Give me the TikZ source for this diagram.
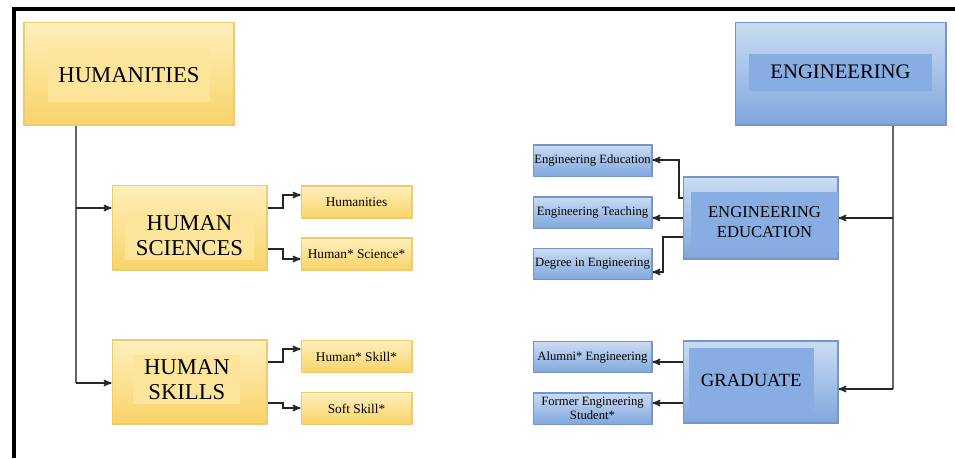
\documentclass[tikz,border=0pt]{standalone}
\usepackage{fontspec}
\setmainfont{Liberation Serif}
\usetikzlibrary{arrows}
\definecolor{goldtop}{HTML}{FEEFBC}
\definecolor{goldbot}{HTML}{F9D368}
\definecolor{goldline}{HTML}{EDCB6E}
\definecolor{goldin}{HTML}{FCE49A}
\definecolor{bluetop}{HTML}{CADCF3}
\definecolor{bluebot}{HTML}{80A7DD}
\definecolor{blueline}{HTML}{7596C6}
\definecolor{bluein}{HTML}{88ADE2}

\begin{document}
\begin{tikzpicture}[x = 0.75pt, y = -0.75pt, >= stealth', every text node part/.style = {align = center},
	hbox/.style = {rectangle, draw = goldline, line width = 1pt, top color = goldtop, bottom color = goldbot, inner sep = 0pt},
	ebox/.style = {rectangle, draw = blueline, line width = 1pt, top color = bluetop, bottom color = bluebot, inner sep = 0pt},
	bigtxt/.style = {font = \fontsize{17}{19}\selectfont},
	midtxt/.style = {font = \fontsize{12.5}{15}\selectfont},
	smltxt/.style = {font = \fontsize{9.5}{10.5}\selectfont},
	hsub/.style = {hbox, font = \fontsize{10}{11}\selectfont, minimum width = 83pt, minimum height = 24pt},
	esub/.style = {ebox, smltxt, minimum width = 89pt, minimum height = 23.5pt},
	trunk/.style = {line width = 1.1pt, black!60},
	link/.style = {->, line width = 1.1pt, black!85}]
	\useasboundingbox (0,0) rectangle (955,458);
	% frame
	\draw[line width = 2.3pt] (14,458) -- (14,9) -- (955,9);

	% humanities side
	\node[hbox, minimum width = 157.5pt, minimum height = 77pt, label = {[fill = goldin, minimum width = 122pt, minimum height = 41pt, bigtxt, yshift = -1pt]center:HUMANITIES}] (hum) at (129,73.5) {};
	\node[hbox, minimum width = 116pt, minimum height = 63.5pt, label = {[fill = goldin, inner xsep = 8pt, bigtxt, yshift = -6pt]center:HUMAN\\SCIENCES}] (hsci) at (189.5,227.5) {};
	\node[hbox, minimum width = 116pt, minimum height = 63pt, label = {[fill = goldin, inner xsep = 8pt, bigtxt, xshift = -2pt, yshift = 2pt]center:HUMAN\\SKILLS}] (hskl) at (189.5,382) {};
	\node[hsub] (humn) at (356.5,202) {Humanities};
	\node[hsub] (hsci2) at (356.5,254) {Human* Science*};
	\node[hsub] (hskl2) at (356.5,356.5) {Human* Skill*};
	\node[hsub] (soft) at (356.5,408.5) {Soft Skill*};

	% engineering side
	\node[ebox, minimum width = 158pt, minimum height = 77pt, label = {[fill = bluein, minimum width = 137pt, minimum height = 28pt, font = \fontsize{15.5}{16}\selectfont, yshift = 1pt]center:ENGINEERING}] (eng) at (840.5,73.5) {};
	\node[ebox, minimum width = 116pt, minimum height = 61.5pt, label = {[fill = bluein, minimum width = 110pt, minimum height = 45pt, midtxt, xshift = 3pt, yshift = -3pt]center:ENGINEERING\\EDUCATION}] (edu) at (760.5,218) {};
	\node[ebox, minimum width = 116pt, minimum height = 61.5pt, label = {[fill = bluein, minimum width = 94pt, minimum height = 49pt, font = \fontsize{14}{15}\selectfont, xshift = -7pt, yshift = 1pt]center:GRADUATE}] (grad) at (760.5,382) {};
	\node[esub] (eedu) at (592.5,160.5) {Engineering Education};
	\node[esub] (etch) at (592.5,212.5) {Engineering Teaching};
	\node[esub] (deg) at (592.5,264) {Degree in Engineering};
	\node[esub] (alum) at (592.5,357) {Alumni* Engineering};
	\node[esub] (form) at (592.5,408.5) {Former Engineering\\Student*};

	% humanities links
	\draw[trunk] (hum.south -| 76,0) -- (76,383);
	\draw[link] (76,208) -- (hsci.west |- 0,208);
	\draw[link] (76,383) -- (hskl.west |- 0,383);
	\draw[link] (hsci.east |- 0,208) -- (283,208) -- (283,195) -- (humn.west |- 0,195);
	\draw[link] (hsci.east |- 0,249) -- (283,249) -- (283,259) -- (hsci2.west |- 0,259);
	\draw[link] (hskl.east |- 0,362) -- (283,362) -- (283,349) -- (hskl2.west |- 0,349);
	\draw[link] (hskl.east |- 0,403) -- (283,403) -- (283,408) -- (soft.west |- 0,408);

	% engineering links
	\draw[trunk] (eng.south -| 893,0) -- (893,389);
	\draw[link] (893,218) -- (edu.east |- 0,218);
	\draw[link] (893,389) -- (grad.east |- 0,389);
	\draw[link] (edu.west |- 0,198) -- (679,198) -- (679,160) -- (eedu.east |- 0,160);
	\draw[link] (edu.west |- 0,218) -- (etch.east |- 0,218);
	\draw[link] (edu.west |- 0,237) -- (663,237) -- (663,272) -- (deg.east |- 0,272);
	\draw[link] (grad.west |- 0,362) -- (alum.east |- 0,362);
	\draw[link] (grad.west |- 0,403) -- (form.east |- 0,403);
\end{tikzpicture}
\end{document}
